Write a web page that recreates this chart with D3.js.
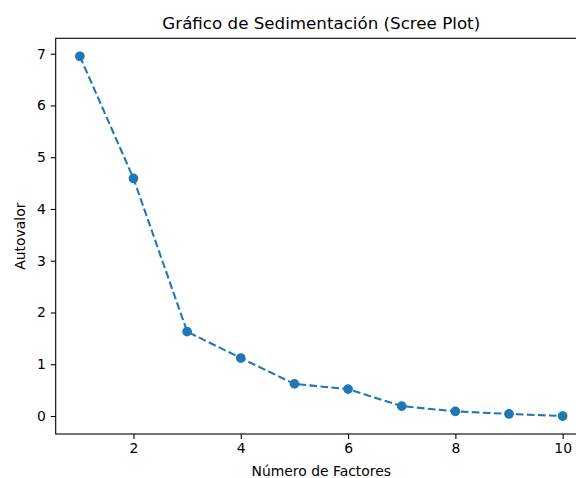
<!DOCTYPE html>
<html>
<head>
<meta charset="utf-8">
<script src="https://cdn.jsdelivr.net/npm/d3@7"></script>
<style>
  body { margin: 0; background: #fff; }
  svg { display: block; font-family: "DejaVu Sans", sans-serif; }
</style>
</head>
<body>
<svg id="chart" width="576" height="478"></svg>
<script>
// datos del scree plot
const factores = [1, 2, 3, 4, 5, 6, 7, 8, 9, 10];
const autovalores = [6.95, 4.59, 1.63, 1.12, 0.62, 0.52, 0.19, 0.09, 0.04, 0.0];
const xTicks = [2, 4, 6, 8, 10];
const yTicks = [0, 1, 2, 3, 4, 5, 6, 7];

const svg = d3.select("#chart");

// el area de ejes sigue mas alla del borde derecho (recortado)
const axLeft = 55.7, axRight = 586.8, axTop = 38.3, axBottom = 434;

const x = d3.scaleLinear().domain([0.55, 10.45]).range([axLeft, axRight]);
const y = d3.scaleLinear().domain([-0.3475, 7.2975]).range([axBottom, axTop]);

const line = d3.line()
  .x((d, i) => x(factores[i]))
  .y(d => y(d));

svg.append("path")
  .datum(autovalores)
  .attr("d", line)
  .attr("fill", "none")
  .attr("stroke", "#1f77b4")
  .attr("stroke-width", 2.08)
  .attr("stroke-dasharray", "7.7,3.33");

// marcadores con borde del mismo color
svg.append("g")
  .selectAll("circle")
  .data(autovalores)
  .join("circle")
  .attr("cx", (d, i) => x(factores[i]))
  .attr("cy", d => y(d))
  .attr("r", 4.17)
  .attr("fill", "#1f77b4")
  .attr("stroke", "#1f77b4")
  .attr("stroke-width", 1.39);

// ejes
const xAxis = svg.append("g")
  .attr("transform", `translate(0,${axBottom})`)
  .call(d3.axisBottom(x).tickValues(xTicks).tickSize(4.9).tickPadding(4.2));

const yAxis = svg.append("g")
  .attr("transform", `translate(${axLeft},0)`)
  .call(d3.axisLeft(y).tickValues(yTicks).tickSize(4.9).tickPadding(4.9));

[xAxis, yAxis].forEach(g => {
  g.selectAll("text").attr("font-size", 13.9).attr("fill", "#000")
    .attr("font-family", "DejaVu Sans, sans-serif");
  g.selectAll("line").attr("stroke", "#000").attr("stroke-width", 1.1);
  g.select(".domain").remove();
});

// spines
svg.append("rect")
  .attr("x", axLeft)
  .attr("y", axTop)
  .attr("width", axRight - axLeft)
  .attr("height", axBottom - axTop)
  .attr("fill", "none")
  .attr("stroke", "#000")
  .attr("stroke-width", 1.1);

// titulos
svg.append("text")
  .attr("x", (axLeft + axRight) / 2)
  .attr("y", 29)
  .attr("text-anchor", "middle")
  .attr("font-size", 16.7)
  .text("Gráfico de Sedimentación (Scree Plot)");

svg.append("text")
  .attr("x", (axLeft + axRight) / 2)
  .attr("y", 476)
  .attr("text-anchor", "middle")
  .attr("font-size", 13.9)
  .text("Número de Factores");

svg.append("text")
  .attr("transform", `translate(25,${(axTop + axBottom) / 2}) rotate(-90)`)
  .attr("text-anchor", "middle")
  .attr("font-size", 13.9)
  .text("Autovalor");
</script>
</body>
</html>
